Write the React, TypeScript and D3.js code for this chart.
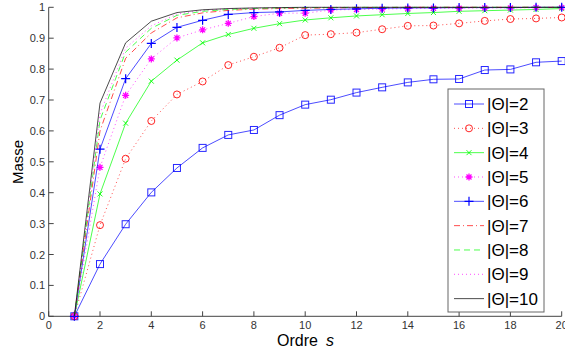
import React from "react";
import * as d3 from "d3";

const orders = [1, 2, 3, 4, 5, 6, 7, 8, 9, 10, 11, 12, 13, 14, 15, 16, 17, 18, 19, 20];
const theta2 = [0, 0.169, 0.298, 0.401, 0.48, 0.545, 0.587, 0.603, 0.651, 0.685, 0.701, 0.724, 0.741, 0.757, 0.767, 0.768, 0.797, 0.799, 0.822, 0.826];
const theta3 = [0, 0.295, 0.51, 0.632, 0.718, 0.76, 0.813, 0.84, 0.869, 0.91, 0.913, 0.918, 0.929, 0.94, 0.941, 0.948, 0.956, 0.962, 0.964, 0.967];
const theta4 = [0, 0.396, 0.625, 0.761, 0.829, 0.885, 0.912, 0.932, 0.947, 0.959, 0.966, 0.972, 0.976, 0.98, 0.983, 0.987, 0.989, 0.991, 0.993, 0.996];
const theta5 = [0, 0.482, 0.715, 0.833, 0.901, 0.927, 0.948, 0.97, 0.981, 0.981, 0.991, 0.993, 0.994, 0.996, 0.997, 0.997, 0.998, 0.998, 0.999, 0.999];
const theta6 = [0, 0.541, 0.769, 0.883, 0.935, 0.958, 0.977, 0.983, 0.985, 0.99, 0.993, 0.995, 0.997, 0.998, 0.998, 0.999, 0.999, 0.999, 1, 1];
const theta7 = [0, 0.6, 0.835, 0.917, 0.966, 0.982, 0.99, 0.994, 0.996, 0.997, 0.998, 0.999, 0.999, 1, 1, 1, 1, 1, 1, 1];
const theta8 = [0, 0.635, 0.855, 0.932, 0.974, 0.987, 0.993, 0.996, 0.998, 0.999, 0.999, 1, 1, 1, 1, 1, 1, 1, 1, 1];
const theta9 = [0, 0.655, 0.868, 0.94, 0.978, 0.99, 0.995, 0.997, 0.998, 0.999, 1, 1, 1, 1, 1, 1, 1, 1, 1, 1];
const theta10 = [0, 0.69, 0.885, 0.955, 0.983, 0.992, 0.996, 0.998, 0.999, 1, 1, 1, 1, 1, 1, 1, 1, 1, 1, 1];

const labels = ["|Θ|=2", "|Θ|=3", "|Θ|=4", "|Θ|=5", "|Θ|=6", "|Θ|=7", "|Θ|=8", "|Θ|=9", "|Θ|=10"];
const xTicks = [0, 2, 4, 6, 8, 10, 12, 14, 16, 18, 20];
const yTicks = [0, 0.1, 0.2, 0.3, 0.4, 0.5, 0.6, 0.7, 0.8, 0.9, 1];

type Marker = "square" | "circle" | "x" | "star" | "plus" | "none";
const series: { values: number[]; color: string; dash: string; marker: Marker }[] = [
  { values: theta2, color: "#0000ff", dash: "", marker: "square" },
  { values: theta3, color: "#ff0000", dash: "1,3", marker: "circle" },
  { values: theta4, color: "#00ff00", dash: "", marker: "x" },
  { values: theta5, color: "#ff00ff", dash: "1,3", marker: "star" },
  { values: theta6, color: "#0000ff", dash: "", marker: "plus" },
  { values: theta7, color: "#ff0000", dash: "6,3,1,3", marker: "none" },
  { values: theta8, color: "#00ff00", dash: "6,4", marker: "none" },
  { values: theta9, color: "#ff00ff", dash: "1,3", marker: "none" },
  { values: theta10, color: "#000000", dash: "", marker: "none" },
];

function MarkerShape({ kind, x, y, color }: { kind: Marker; x: number; y: number; color: string }) {
  const s = 3.5;
  switch (kind) {
    case "square":
      return <rect x={x - s} y={y - s} width={2 * s} height={2 * s} fill="none" stroke={color} strokeWidth={1} strokeOpacity={0.85} />;
    case "circle":
      return <circle cx={x} cy={y} r={3.5} fill="none" stroke={color} strokeWidth={1} strokeOpacity={0.85} />;
    case "x":
      return (
        <path d={`M${x - 2.5},${y - 2.5}L${x + 2.5},${y + 2.5}M${x - 2.5},${y + 2.5}L${x + 2.5},${y - 2.5}`} stroke={color} strokeWidth={1} fill="none" strokeOpacity={0.85} />
      );
    case "star":
      return (
        <path
          d={`M${x - 3.5},${y}L${x + 3.5},${y}M${x},${y - 3.5}L${x},${y + 3.5}M${x - 2.5},${y - 2.5}L${x + 2.5},${y + 2.5}M${x - 2.5},${y + 2.5}L${x + 2.5},${y - 2.5}`}
          stroke={color}
          strokeWidth={1.3}
          fill="none"
        />
      );
    case "plus":
      return <path d={`M${x - 4.5},${y}L${x + 4.5},${y}M${x},${y - 4.5}L${x},${y + 4.5}`} stroke={color} strokeWidth={1.2} fill="none" />;
    default:
      return null;
  }
}

export default function App() {
  const W = 565;
  const H = 351;
  const x = d3.scaleLinear().domain([0, 20]).range([48.7, 561.7]);
  const y = d3.scaleLinear().domain([0, 1]).range([316.3, 7.3]);
  const line = d3
    .line<number>()
    .x((_, i) => x(orders[i]))
    .y((v) => y(v));

  const axisColor = "#444";
  const font = "Arial, 'Liberation Sans', sans-serif";

  const legX = 448;
  const legY = 89;
  const legW = 96;
  const legH = 223;
  const rowH = 24.33;
  const firstRow = 104;

  return (
    <svg width={W} height={H} style={{ position: "absolute", left: 0, top: 0, background: "#fff" }} fontFamily={font}>
      <rect x={0} y={0} width={W} height={H} fill="#fff" />
      {/* axes */}
      <line x1={x(0)} x2={x(0)} y1={y(1)} y2={y(0)} stroke={axisColor} strokeWidth={1} />
      <line x1={x(0)} x2={x(20)} y1={y(0)} y2={y(0)} stroke={axisColor} strokeWidth={1} />
      {xTicks.map((t) => (
        <g key={"xt" + t}>
          <line x1={x(t)} x2={x(t)} y1={y(0)} y2={y(0) - 5} stroke={axisColor} strokeWidth={1} />
          <text x={x(t)} y={329} textAnchor="middle" fontSize={11} fill="#333">
            {t}
          </text>
        </g>
      ))}
      {yTicks.map((t) => (
        <g key={"yt" + t}>
          <line x1={x(0)} x2={x(0) + 5} y1={y(t)} y2={y(t)} stroke={axisColor} strokeWidth={1} />
          <text x={45} y={y(t) + 4} textAnchor="end" fontSize={11} fill="#333">
            {t}
          </text>
        </g>
      ))}
      {/* series */}
      {series.map((s, i) => (
        <g key={"s" + i}>
          <path d={line(s.values) || ""} fill="none" stroke={s.color} strokeWidth={1} strokeOpacity={0.7} strokeDasharray={s.dash || undefined} />
          {s.marker !== "none" &&
            s.values.map((v, j) => <MarkerShape key={j} kind={s.marker} x={x(orders[j])} y={y(v)} color={s.color} />)}
        </g>
      ))}
      {/* labels */}
      <text x={0} y={0} transform={`translate(23,162) rotate(-90)`} textAnchor="middle" fontSize={15} fill="#000">
        Masse
      </text>
      <text x={277} y={346} fontSize={16} fill="#000">
        Ordre
      </text>
      <text x={326} y={346} fontSize={16} fontStyle="italic" fill="#000">
        s
      </text>
      {/* legend */}
      <rect x={legX} y={legY} width={legW} height={legH} fill="#fff" stroke="#666" strokeWidth={1} />
      {series.map((s, i) => {
        const cy = firstRow + i * rowH;
        return (
          <g key={"l" + i}>
            <line x1={454} x2={484} y1={cy} y2={cy} stroke={s.color} strokeWidth={1} strokeOpacity={0.7} strokeDasharray={s.dash || undefined} />
            <MarkerShape kind={s.marker} x={469} y={cy} color={s.color} />
            <text x={487} y={cy + 6} fontSize={17} fill="#000">
              {labels[i]}
            </text>
          </g>
        );
      })}
    </svg>
  );
}
